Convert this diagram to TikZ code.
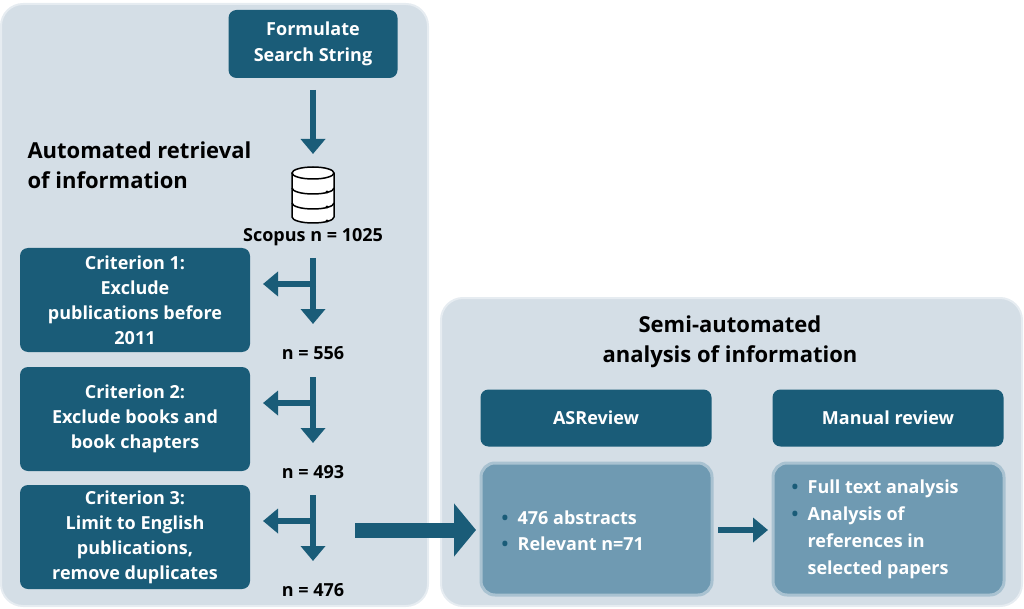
\documentclass[tikz,border=0pt]{standalone}
\usepackage{fontspec}
\setmainfont{Open Sans}
\usetikzlibrary{arrows.meta}
\definecolor{panel}{HTML}{D4DEE6}
\definecolor{panelb}{HTML}{E6ECF1}
\definecolor{dark}{HTML}{1A5C78}
\definecolor{light}{HTML}{6F9AB2}
\begin{document}
\begin{tikzpicture}[x=1pt,y=-1pt,
  pan/.style={fill=panel,draw=panelb,line width=2pt,rounded corners=22pt},
  dbox/.style={fill=dark,rounded corners=8pt,text=white,font=\fontsize{18}{22}\selectfont\bfseries,align=center},
  lbox/.style={fill=light,draw=light!60!white,line width=3pt,rounded corners=14pt},
  arr/.style={draw=dark,line width=6.5pt,-{Triangle[length=15pt,width=24pt]}},
  lbl/.style={font=\fontsize{18}{22}\selectfont\bfseries,text=black},
  ttl/.style={font=\fontsize{22}{30}\selectfont\bfseries,text=black}]
\useasboundingbox (0,0) rectangle (1024,609);
\draw[pan] (1,4) rectangle (428,606);
\draw[pan] (441,298) rectangle (1022,606);
% left
\node[dbox,minimum width=169pt,minimum height=68pt,font=\fontsize{18}{26}\selectfont\bfseries] (f) at (313,44) {Formulate\\Search String};
\node[ttl,align=left,anchor=west] (t1) at (24,165) {Automated retrieval\\of information};
\coordinate (a1) at (313,90);
\coordinate (a2) at (313,154);
\draw[arr] (a1) -- (a2);
% database icon
\begin{scope}[shift={(313,195)},line width=1.5pt,draw=black]
\node (db) at (0,0) {};
\draw[fill=white] (-21,-22) -- (-21,22) arc[start angle=180,end angle=360,x radius=21,y radius=-6] -- (21,-22);
\draw[fill=white] (0,-22) ellipse[x radius=21,y radius=6];
\draw (-21,-7) arc[start angle=180,end angle=360,x radius=21,y radius=-6];
\draw (-21,8) arc[start angle=180,end angle=360,x radius=21,y radius=-6];
\fill (14,-3) circle(1.6); \fill (14,12) circle(1.6); \fill (14,26) circle(1.6);
\end{scope}
\node[lbl] (s) at (313,237) {Scopus n = 1025};
\foreach \i/\top/\txt/\n in {1/248/{Criterion 1:\\Exclude\\publications before\\2011}/556,
  2/367/{Criterion 2:\\Exclude books and\\book chapters}/493,
  3/485/{Criterion 3:\\Limit to English\\publications,\\remove duplicates}/476}{
  \node[dbox,minimum width=230pt,minimum height=104pt,font=\fontsize{18}{25}\selectfont\bfseries] (c\i) at (135,\top+52) {\txt};
  \coordinate (v\i) at (313,\top+10);
  \coordinate (w\i) at (313,\top+76);
  \coordinate (h\i) at (316,\top+36);
  \coordinate (k\i) at (263,\top+36);
  \draw[arr] (v\i) -- (w\i);
  \draw[arr] (h\i) -- (k\i);
  \node[lbl] (n\i) at (313,\top+105) {n = \n};
}
% right
\node[ttl,align=center] (t2) at (730,342) {Semi-automated\\analysis of information};
\node[dbox,minimum width=231pt,minimum height=57pt] (as) at (596,418) {ASReview};
\node[dbox,minimum width=231pt,minimum height=57pt] (mr) at (888,418) {Manual review};
\draw[lbox] (481,463) rectangle (712,595);
\draw[lbox] (773,463) rectangle (1004,595);
\node[text=white,font=\fontsize{18}{26}\selectfont\bfseries,align=left,anchor=west] (b1) at (498,531)
  {\textcolor{dark}{•}\ \ 476 abstracts\\\textcolor{dark}{•}\ \ Relevant n=71};
\node[text=white,font=\fontsize{18}{27}\selectfont\bfseries,align=left,anchor=north west] (b2) at (788,476)
  {\textcolor{dark}{•}\ \ Full text analysis\\\textcolor{dark}{•}\ \ Analysis of\\\phantom{•}\ \ references in\\\phantom{•}\ \ selected papers};
\coordinate (g1) at (355,530);
\coordinate (g2) at (476,530);
\draw[draw=dark,line width=15pt,-{Triangle[length=22pt,width=52pt]}] (g1) -- (g2);
\coordinate (m1) at (718,530);
\coordinate (m2) at (768,530);
\draw[arr] (m1) -- (m2);
\end{tikzpicture}
\end{document}
